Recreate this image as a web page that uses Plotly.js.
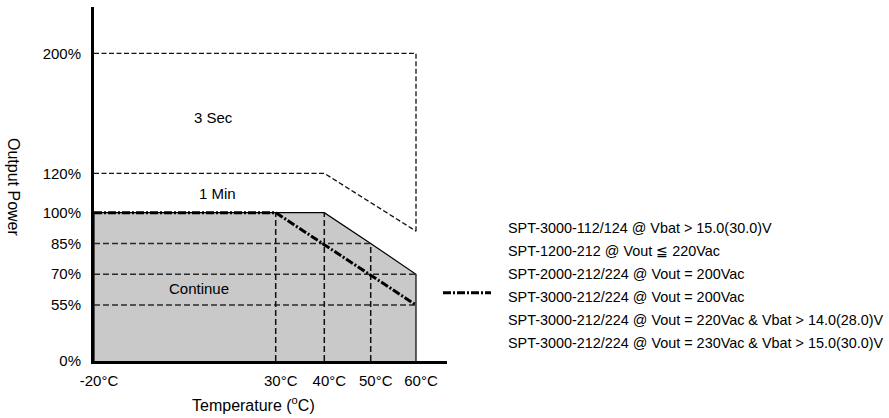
<!DOCTYPE html>
<html>
<head>
<meta charset="utf-8">
<script src="https://cdn.plot.ly/plotly-3.0.1.min.js"></script>
<style>html,body{margin:0;padding:0;background:#fff;}#chart{width:889px;height:418px;}</style>
</head>
<body>
<div id="chart"></div>
<script>
// ---- data ----
const temperatureC = [-20, 30, 40, 50, 60];
const continuousPct = [100, 100, 100, 85, 70];
const oneMinTemp = [-20, 40, 60];
const oneMinPct = [120, 120, 91];
const threeSecTemp = [-20, 60, 60];
const threeSecPct = [200, 200, 91];
const derateTemp = [-20, 30, 60];
const deratePct = [100, 100, 55];
const gridPct = [85, 70, 55];
const gridTemp = [30, 40, 50];
const yTickPct = [0, 55, 70, 85, 100, 120, 200];
const yTickText = ['0%', '55%', '70%', '85%', '100%', '120%', '200%'];
const xTickTemp = [-20, 30, 40, 50, 60];
const xTickText = ['-20°C', '30°C', '40°C', '50°C', '60°C'];
const regionLabels = ['3 Sec', '1 Min', 'Continue'];
const regionLabelTemp = [13, 14, 9];
const regionLabelPct = [157, 110, 63];
const legendLines = [
  'SPT-3000-112/124 @ Vbat > 15.0(30.0)V',
  'SPT-1200-212 @ Vout ≦ 220Vac',
  'SPT-2000-212/224 @ Vout = 200Vac',
  'SPT-3000-212/224 @ Vout = 200Vac',
  'SPT-3000-212/224 @ Vout = 220Vac & Vbat > 14.0(28.0)V',
  'SPT-3000-212/224 @ Vout = 230Vac & Vbat > 15.0(30.0)V'
];

// ---- non-linear display scales (piecewise linear, as in the drawing) ----
const xScaleIn = [-20, 30, 40, 50, 60], xScaleOut = [0, 181.7, 230.3, 276.7, 322];
const yScaleIn = [0, 55, 100, 120, 200], yScaleOut = [0, 56, 148.3, 187.7, 307.7];
function piece(v, a, b) {
  for (let i = 0; i < a.length - 1; i++) {
    if (v <= a[i + 1] || i === a.length - 2) {
      return b[i] + (v - a[i]) * (b[i + 1] - b[i]) / (a[i + 1] - a[i]);
    }
  }
}
function interp(v, xs, ys) { return piece(v, xs, ys); }
const X = t => piece(t, xScaleIn, xScaleOut);
const Y = p => piece(p, yScaleIn, yScaleOut);
const mx = arr => arr.map(X);
const my = arr => arr.map(Y);

// layout geometry
const L = 94, R = 442, T = 7, B = 57, W = 889, H = 418;
const PW = W - L - R, PH = H - T - B;
const pxX = px => (px - L) / PW;
const pxY = py => (H - B - py) / PH;

const FONT = '"Liberation Sans", Arial, sans-serif';
const traces = [];

// continuous region (grey)
traces.push({
  x: mx([-20].concat(temperatureC, [60])),
  y: my([0].concat(continuousPct, [0])),
  mode: 'lines', fill: 'toself', fillcolor: '#c9c9c9',
  line: {color: '#000', width: 1.2}, hoverinfo: 'skip', showlegend: false
});
// horizontal dashed grid lines inside region
gridPct.forEach(p => {
  let endT = 60;
  for (let i = 0; i < temperatureC.length - 1; i++) {
    const p0 = continuousPct[i], p1 = continuousPct[i + 1];
    if (p0 >= p && p1 < p) { endT = temperatureC[i] + (p0 - p) * (temperatureC[i + 1] - temperatureC[i]) / (p0 - p1); }
  }
  traces.push({x: mx([-20, endT]), y: my([p, p]), mode: 'lines',
    line: {color: '#2a2a2a', width: 1.5, dash: '6px,3px'}, hoverinfo: 'skip', showlegend: false});
});
// vertical dashed grid lines
gridTemp.forEach(t => {
  const top = interp(t, temperatureC, continuousPct);
  traces.push({x: mx([t, t]), y: my([0, top]), mode: 'lines',
    line: {color: '#111', width: 1.5, dash: '6px,3px'}, hoverinfo: 'skip', showlegend: false});
});
// 1 Min boundary
traces.push({x: mx(oneMinTemp), y: my(oneMinPct), mode: 'lines',
  line: {color: '#111', width: 1.3, dash: '5px,2.5px'}, hoverinfo: 'skip', showlegend: false});
// 3 Sec boundary
traces.push({x: mx(threeSecTemp), y: my(threeSecPct), mode: 'lines',
  line: {color: '#111', width: 1.3, dash: '5px,2.5px'}, hoverinfo: 'skip', showlegend: false});
// derating dash-dot
traces.push({x: mx(derateTemp), y: my(deratePct), mode: 'lines',
  line: {color: '#000', width: 3, dash: '8px,2px,2px,2px'}, hoverinfo: 'skip', showlegend: false});

const annotations = [];
regionLabels.forEach((s, i) => annotations.push({
  x: X(regionLabelTemp[i]), y: Y(regionLabelPct[i]), xref: 'x', yref: 'y', text: s,
  xanchor: 'center', yanchor: 'middle',
  showarrow: false, font: {family: FONT, size: 15, color: '#000'}
}));
// axis titles
annotations.push({x: pxX(14), y: pxY(187), xref: 'paper', yref: 'paper', text: 'Output Power',
  xanchor: 'center', yanchor: 'middle',
  textangle: 90, showarrow: false, font: {family: FONT, size: 16, color: '#000'}});
annotations.push({x: pxX(253), y: pxY(404), xref: 'paper', yref: 'paper', text: 'Temperature (<sup>o</sup>C)',
  xanchor: 'center', yanchor: 'middle',
  showarrow: false, font: {family: FONT, size: 16, color: '#000'}});
// legend texts
legendLines.forEach((s, i) => annotations.push({
  x: pxX(506), y: pxY(228.3 + i * 22.9), xref: 'paper', yref: 'paper', xanchor: 'left', yanchor: 'middle', text: s,
  showarrow: false, font: {family: FONT, size: 14.4, color: '#000'}
}));

const shapes = [{
  type: 'line', xref: 'paper', yref: 'paper', x0: pxX(443), x1: pxX(491), y0: pxY(292.7), y1: pxY(292.7),
  line: {color: '#000', width: 3, dash: '8px,2px,2px,2px'}
}];

const layout = {
  width: W, height: H,
  margin: {l: L, r: R, t: T, b: B, pad: 0},
  paper_bgcolor: '#fff', plot_bgcolor: '#fff',
  showlegend: false,
  font: {family: FONT, size: 15, color: '#000'},
  xaxis: {range: [0, PW], showgrid: false, zeroline: false, showline: true, linewidth: 3, linecolor: '#000',
    tickvals: mx(xTickTemp), ticktext: xTickText, ticks: '', ticklabelstandoff: 4, ticklabelshift: 5,
    tickfont: {family: FONT, size: 15, color: '#000'}, fixedrange: true},
  yaxis: {range: [0, PH], showgrid: false, zeroline: false, showline: true, linewidth: 3, linecolor: '#000',
    tickvals: my(yTickPct), ticktext: yTickText, ticks: '', ticklabelstandoff: 7,
    tickfont: {family: FONT, size: 15, color: '#000'}, fixedrange: true},
  annotations: annotations,
  shapes: shapes
};

Plotly.newPlot('chart', traces, layout, {displayModeBar: false, staticPlot: true});
</script>
</body>
</html>
